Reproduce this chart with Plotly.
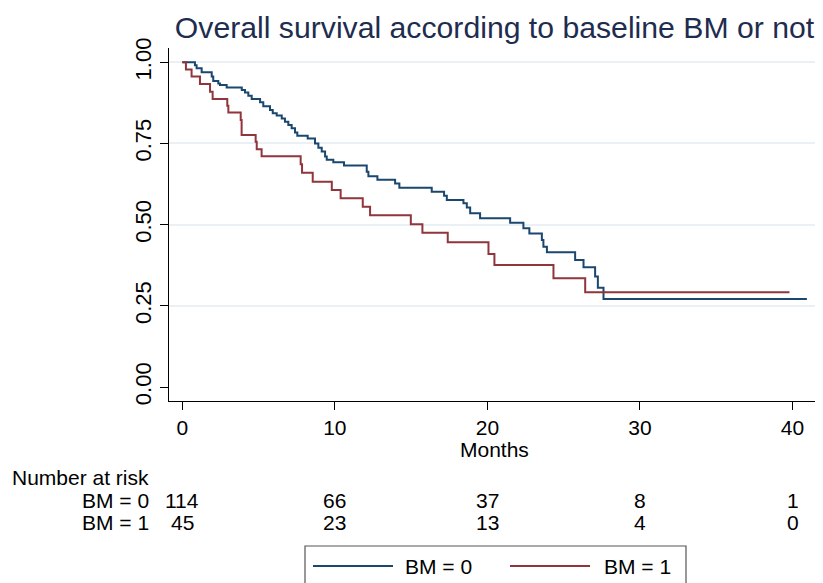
import plotly.graph_objects as go

# ---- data ----
bm0_time = [0, 0.83, 0.94, 1.27, 1.93, 2.03, 2.36, 2.47, 2.91, 3.90, 4.11, 4.33, 4.55,
            5.10, 5.31, 5.75, 5.93, 6.19, 6.52, 6.73, 6.95, 7.17, 7.39, 7.54, 8.22,
            8.70, 8.92, 9.14, 9.36, 9.47, 9.90, 10.60, 12.09, 12.20, 12.79, 13.95,
            14.23, 16.35, 17.16, 17.34, 18.43, 18.65, 18.87, 19.52, 21.49, 22.36,
            22.75, 23.57, 23.67, 23.90, 25.75, 26.30, 27.06, 27.24, 27.61, 40.94]
bm0_surv = [1.0, 0.991, 0.982, 0.969, 0.956, 0.942, 0.935, 0.930, 0.922, 0.915, 0.907,
            0.897, 0.887, 0.877, 0.865, 0.853, 0.843, 0.836, 0.827, 0.817, 0.807,
            0.797, 0.784, 0.774, 0.765, 0.750, 0.737, 0.725, 0.710, 0.700, 0.692,
            0.682, 0.663, 0.649, 0.638, 0.627, 0.614, 0.601, 0.589, 0.576, 0.566,
            0.553, 0.535, 0.520, 0.506, 0.489, 0.473, 0.453, 0.432, 0.415, 0.391,
            0.369, 0.340, 0.306, 0.271, 0.271]

bm1_time = [0, 0.24, 0.61, 1.16, 1.82, 1.99, 2.95, 3.02, 3.83, 3.89, 4.81, 4.88, 5.20,
            7.76, 7.85, 8.55, 9.80, 10.38, 11.83, 12.31, 14.98, 15.74, 17.40, 20.07,
            20.46, 24.33, 26.41, 39.80]
bm1_surv = [1.0, 0.978, 0.956, 0.933, 0.909, 0.887, 0.866, 0.845, 0.822, 0.776, 0.755,
            0.732, 0.711, 0.686, 0.660, 0.632, 0.607, 0.581, 0.555, 0.529, 0.501,
            0.475, 0.446, 0.410, 0.376, 0.335, 0.292, 0.292]

risk_times = [0, 10, 20, 30, 40]
risk_bm0 = [114, 66, 37, 8, 1]
risk_bm1 = [45, 23, 13, 4, 0]

group_labels = ["BM = 0", "BM = 1"]
x_ticks = [0, 10, 20, 30, 40]
y_ticks = [0.0, 0.25, 0.50, 0.75, 1.00]
y_tick_text = ["0.00", "0.25", "0.50", "0.75", "1.00"]
grid_vals = [0.25, 0.50, 0.75, 1.00]

BLUE = "#1a476f"
RED = "#90353b"
FONT = "Liberation Sans, Arial, sans-serif"
FS = 21

# The page body has an 8px margin, so the figure is sized to fit inside it.
W, H = 815, 575

fig = go.Figure()
# invisible trace on the grid axis (drawn first so the grid stays underneath)
fig.add_trace(go.Scatter(x=[None], y=[None], yaxis="y2", showlegend=False, hoverinfo="skip"))
fig.add_trace(go.Scatter(x=bm0_time, y=bm0_surv, mode="lines", line_shape="hv",
                         line=dict(color=BLUE, width=2), name=group_labels[0],
                         showlegend=False))
fig.add_trace(go.Scatter(x=bm1_time, y=bm1_surv, mode="lines", line_shape="hv",
                         line=dict(color=RED, width=2), name=group_labels[1],
                         showlegend=False))

fig.update_layout(
    width=W, height=H,
    margin=dict(l=161, r=3, t=40, b=182),
    paper_bgcolor="white", plot_bgcolor="white",
    font=dict(family=FONT, size=FS, color="black"),
    title=dict(text="Overall survival according to baseline BM or not",
               x=0.5, xref="paper", xanchor="center",
               y=1 - 19 / H, yref="container", yanchor="middle",
               font=dict(family=FONT, size=30.2, color="#1e2d4f")),
    showlegend=False,
    xaxis=dict(range=[-0.87, 41.8], tickvals=x_ticks, showgrid=False, zeroline=False,
               showline=True, linecolor="black", linewidth=1.2,
               ticks="outside", ticklen=8, tickcolor="black", tickwidth=1.2,
               tickfont=dict(size=FS)),
    yaxis=dict(range=[-0.043, 1.044], tickvals=y_ticks, ticktext=y_tick_text,
               tickangle=-90, showgrid=False, zeroline=False,
               showline=True, linecolor="black", linewidth=1.2,
               ticks="outside", ticklen=8, tickcolor="black", tickwidth=1.2,
               tickfont=dict(size=22), ticklabelstandoff=0),
    yaxis2=dict(range=[-0.043, 1.044], overlaying="y", tickvals=grid_vals,
                showticklabels=False, showgrid=True, gridcolor="#eaf0f4", gridwidth=1.5,
                zeroline=False, showline=False, ticks=""),
)

# helpers: screen pixel -> paper coordinate (plot area spans x 169..820, y 48..401 on screen)
def py(px):
    return (401 - px) / 353.0

def pxx(px):
    return (px - 169) / 651.0

ann = [dict(text="Months", x=0.5, y=py(449), xref="paper", yref="paper",
            xanchor="center", yanchor="middle", showarrow=False),
       dict(text="Number at risk", x=pxx(10), y=py(477), xref="paper", yref="paper",
            xanchor="left", yanchor="middle", showarrow=False),
       dict(text=group_labels[0], x=pxx(151), y=py(500), xref="paper", yref="paper",
            xanchor="right", yanchor="middle", showarrow=False),
       dict(text=group_labels[1], x=pxx(151), y=py(522), xref="paper", yref="paper",
            xanchor="right", yanchor="middle", showarrow=False)]
for t, n0, n1 in zip(risk_times, risk_bm0, risk_bm1):
    ann.append(dict(text=str(n0), x=t, y=py(500), xref="x", yref="paper",
                    xanchor="center", yanchor="middle", showarrow=False))
    ann.append(dict(text=str(n1), x=t, y=py(522), xref="x", yref="paper",
                    xanchor="center", yanchor="middle", showarrow=False))

# legend box (drawn as a Stata-style key below the risk table)
ann.append(dict(text=group_labels[0], x=pxx(403), y=py(566), xref="paper", yref="paper",
                xanchor="left", yanchor="middle", showarrow=False))
ann.append(dict(text=group_labels[1], x=pxx(602), y=py(566), xref="paper", yref="paper",
                xanchor="left", yanchor="middle", showarrow=False))
shapes = [
    dict(type="rect", xref="paper", yref="paper", x0=pxx(305), x1=pxx(686),
         y0=py(600), y1=py(546), line=dict(color="#555555", width=1.2),
         fillcolor="white", layer="below"),
    dict(type="line", xref="paper", yref="paper", x0=pxx(313), x1=pxx(393),
         y0=py(566), y1=py(566), line=dict(color=BLUE, width=2)),
    dict(type="line", xref="paper", yref="paper", x0=pxx(510), x1=pxx(590),
         y0=py(566), y1=py(566), line=dict(color=RED, width=2)),
]
fig.update_layout(annotations=ann, shapes=shapes)

fig.write_html("out.html")
